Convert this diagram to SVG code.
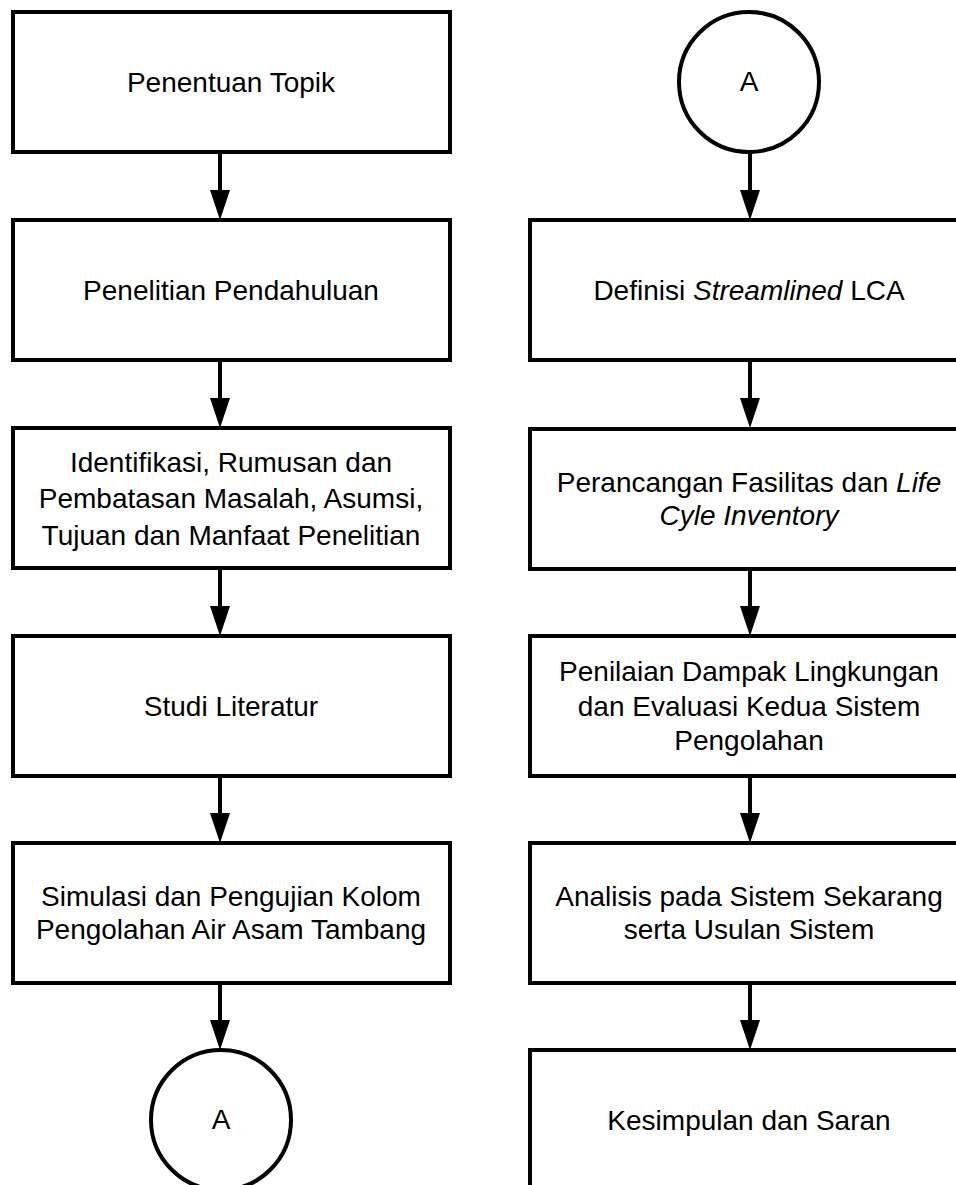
<svg xmlns="http://www.w3.org/2000/svg" width="956" height="1185" viewBox="0 0 956 1185">
<style>
.box{fill:#fff;stroke:#000;stroke-width:4}
.circ{fill:#fff;stroke:#000;stroke-width:4}
.lbl{font-family:"Liberation Sans",Arial,sans-serif;font-size:28px;fill:#000;text-anchor:middle}
.it{font-style:italic}
.edge{stroke:#000;stroke-width:4;fill:none;marker-end:url(#arr)}
</style>
<defs>
<marker id="arr" markerUnits="userSpaceOnUse" viewBox="0 0 30 20" markerWidth="30" markerHeight="20" refX="2" refY="10" orient="auto">
<path d="M0,0 L30,10 L0,20 z" fill="#000"/>
</marker>
</defs>
<rect width="956" height="1185" fill="#fff"/>
<g id="connectors">
<line class="edge" x1="220" y1="152" x2="220" y2="192"/>
<line class="edge" x1="220" y1="360" x2="220" y2="400"/>
<line class="edge" x1="220" y1="568" x2="220" y2="608"/>
<line class="edge" x1="220" y1="776" x2="220" y2="815"/>
<line class="edge" x1="220" y1="983" x2="220" y2="1022"/>
<line class="edge" x1="750" y1="152" x2="750" y2="192"/>
<line class="edge" x1="750" y1="360" x2="750" y2="400"/>
<line class="edge" x1="750" y1="568" x2="750" y2="608"/>
<line class="edge" x1="750" y1="776" x2="750" y2="815"/>
<line class="edge" x1="750" y1="983" x2="750" y2="1022"/>
</g>
<g id="n1"><rect class="box" x="13" y="12" width="437" height="140"/><text class="lbl" x="231" y="92">Penentuan Topik</text></g>
<g id="n2"><rect class="box" x="13" y="220" width="437" height="140"/><text class="lbl" x="231" y="300">Penelitian Pendahuluan</text></g>
<g id="n3"><rect class="box" x="13" y="428" width="437" height="140"/><text class="lbl" x="231" y="472">Identifikasi, Rumusan dan</text><text class="lbl" x="231" y="508">Pembatasan Masalah, Asumsi,</text><text class="lbl" x="231" y="545">Tujuan dan Manfaat Penelitian</text></g>
<g id="n4"><rect class="box" x="13" y="636" width="437" height="140"/><text class="lbl" x="231" y="716">Studi Literatur</text></g>
<g id="n5"><rect class="box" x="13" y="843" width="437" height="140"/><text class="lbl" x="231" y="906">Simulasi dan Pengujian Kolom</text><text class="lbl" x="231" y="939">Pengolahan Air Asam Tambang</text></g>
<g id="c1"><circle class="circ" cx="221" cy="1120" r="70"/><text class="lbl" x="221" y="1129">A</text></g>
<g id="c2"><circle class="circ" cx="749" cy="82" r="70"/><text class="lbl" x="749" y="91">A</text></g>
<g id="n6"><rect class="box" x="530" y="220" width="438" height="140"/><text class="lbl" x="749" y="300">Definisi <tspan class="it">Streamlined</tspan> LCA</text></g>
<g id="n7"><rect class="box" x="530" y="429" width="438" height="140"/><text class="lbl" x="749" y="492">Perancangan Fasilitas dan <tspan class="it">Life</tspan></text><text class="lbl it" x="749" y="525">Cyle Inventory</text></g>
<g id="n8"><rect class="box" x="530" y="636" width="438" height="140"/><text class="lbl" x="749" y="681">Penilaian Dampak Lingkungan</text><text class="lbl" x="749" y="716">dan Evaluasi Kedua Sistem</text><text class="lbl" x="749" y="750">Pengolahan</text></g>
<g id="n9"><rect class="box" x="530" y="843" width="438" height="140"/><text class="lbl" x="749" y="906">Analisis pada Sistem Sekarang</text><text class="lbl" x="749" y="939">serta Usulan Sistem</text></g>
<g id="n10"><rect class="box" x="530" y="1050" width="438" height="140"/><text class="lbl" x="749" y="1130">Kesimpulan dan Saran</text></g>
</svg>
